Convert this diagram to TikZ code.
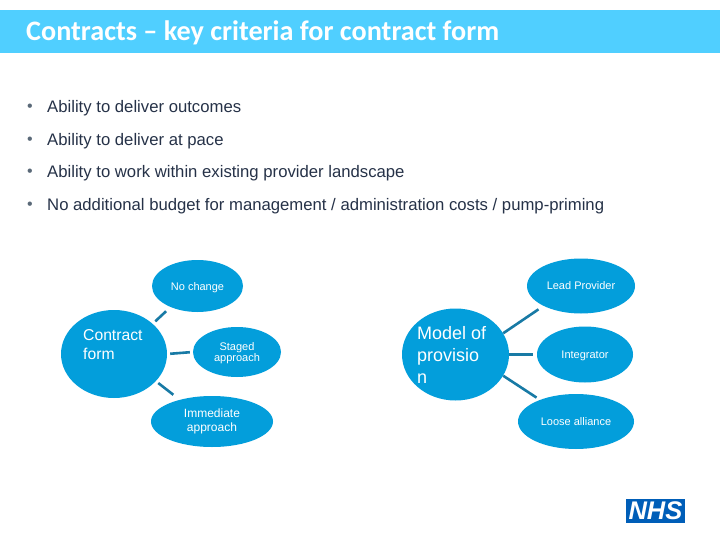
\documentclass[tikz,border=0pt]{standalone}
\usepackage{fontspec}
\setmainfont{Liberation Sans}
\newfontfamily\titlefont{Carlito}
\usetikzlibrary{shapes.geometric}
\definecolor{band}{RGB}{80,207,255}
\definecolor{blob}{RGB}{3,158,219}
\definecolor{conn}{RGB}{24,122,165}
\definecolor{ink}{RGB}{38,50,72}
\definecolor{bulletc}{RGB}{90,105,120}
\definecolor{nhsblue}{RGB}{0,94,184}
\newcommand{\nudge}[2]{\raisebox{-#1}[\height][\depth]{#2}}
\newcommand{\twolines}[3]{\begin{tabular}{@{}c@{}}#1\\[#3]#2\end{tabular}}
\tikzset{
  blob/.style={ellipse,fill=blob,draw=none,inner sep=0pt,text=white,align=center,font=\fontsize{11}{13}\selectfont},
  linkline/.style={draw=conn,line width=2.6pt},
  crit/.style={anchor=west,text=ink,inner sep=0pt,font=\fontsize{16.7}{18}\selectfont},
  dot/.style={anchor=center,text=bulletc,inner sep=0pt,font=\fontsize{16}{18}\selectfont}
}
\begin{document}
\begin{tikzpicture}[x=1pt,y=-1pt]
\useasboundingbox (0,0) rectangle (720,540);
\fill[white] (0,0) rectangle (720,540);
\node[fill=band,minimum width=720pt,minimum height=42.5pt,inner sep=0pt,anchor=north west] (hdr) at (0,10) {};
\node[anchor=west,text=white,inner sep=0pt,font=\titlefont\bfseries\fontsize{28.2}{30}\selectfont] (title) at (26,33) {Contracts – key criteria for contract form};
\foreach \n/\y/\t in {a/108/{Ability to deliver outcomes},b/141/{Ability to deliver at pace},c/173/{Ability to work within existing provider landscape},d/206/{No additional budget for management / administration costs / pump-priming}}{
  \node[dot] (bul\n) at (30,\y) {•};
  \node[crit] (txt\n) at (47,\y) {\t};
}
\node[blob,minimum width=106pt,minimum height=88pt] (cf) at (114,354) {};
\node[anchor=north west,text=white,inner sep=0pt,align=left,font=\fontsize{15.7}{19}\selectfont] (cft) at (83,329) {Contract\\form};
\node[blob,minimum width=91pt,minimum height=52pt] (nc) at (197.5,286) {\nudge{2pt}{No change}};
\node[blob,minimum width=88pt,minimum height=50pt] (st) at (237,352) {\nudge{1.5pt}{\twolines{Staged}{approach}{-1.5pt}}};
\node[blob,minimum width=122pt,minimum height=51pt,font=\fontsize{12}{14}\selectfont] (im) at (212,421.5) {\nudge{0.5pt}{\twolines{Immediate}{approach}{0pt}}};
\node[blob,minimum width=107pt,minimum height=92pt] (md) at (455.5,354.5) {};
\node[anchor=north west,text=white,inner sep=0pt,align=left,font=\fontsize{18}{22}\selectfont] (mdt) at (417,326) {Model of\\provisio\\n};
\node[blob,minimum width=108pt,minimum height=55pt] (lp) at (581,286) {Lead Provider};
\node[blob,minimum width=96pt,minimum height=56pt] (ig) at (585,354.5) {\nudge{1pt}{Integrator}};
\node[blob,minimum width=116pt,minimum height=55pt] (la) at (576,421.5) {Loose alliance};
\draw[linkline,shorten <=3.5pt,shorten >=6pt] (cf.38.8) -- (nc.218);
\draw[linkline,shorten <=3pt,shorten >=3pt] (cf.0) -- (st.180);
\draw[linkline,shorten <=3pt,shorten >=8pt] (cf.-33.4) -- (im.146.5);
\draw[linkline,shorten >=6pt] (md.24.9) -- (lp.208.7);
\draw[linkline,shorten >=4pt] (md.0) -- (ig.180);
\draw[linkline,shorten >=4pt] (md.-24.9) -- (la.149.6);
\node[fill=nhsblue,text=white,minimum width=59pt,minimum height=24pt,inner sep=0pt,font=\bfseries\itshape\fontsize{25.5}{26}\selectfont] (nhs) at (655.5,511) {NHS};
\end{tikzpicture}
\end{document}
